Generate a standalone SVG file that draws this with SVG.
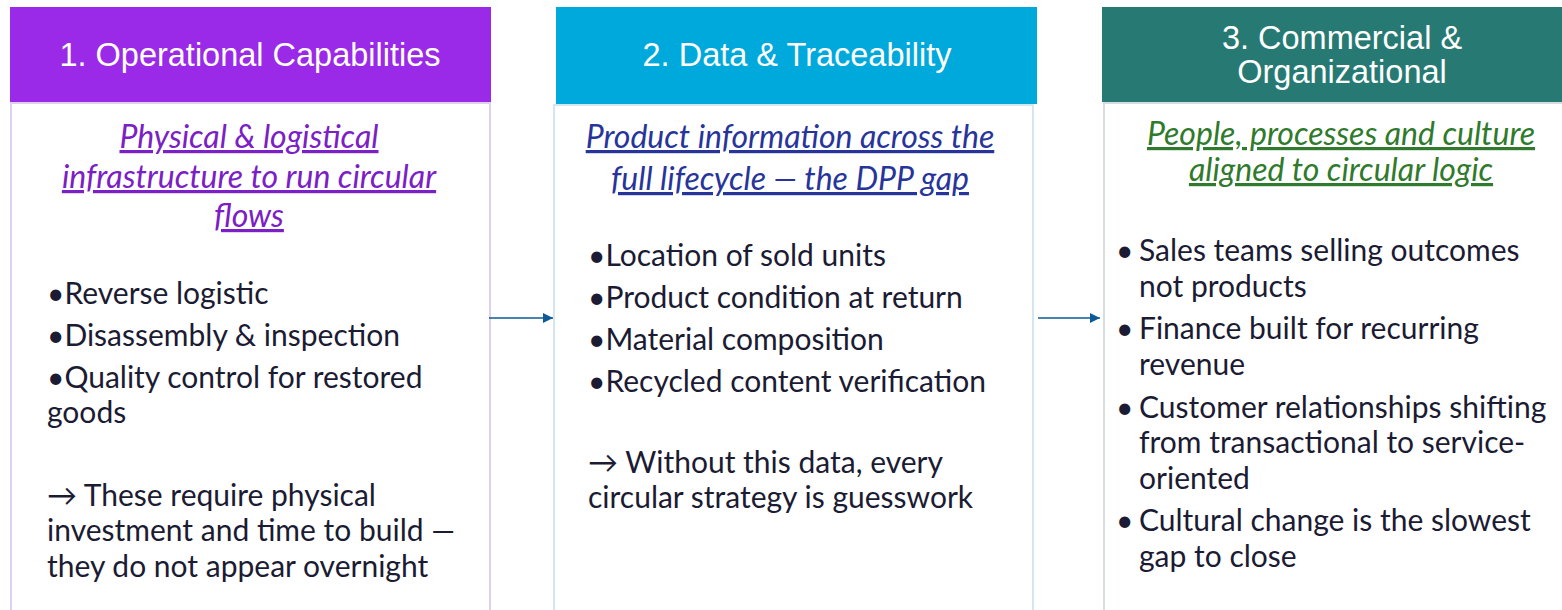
<svg xmlns="http://www.w3.org/2000/svg" width="1562" height="610" viewBox="0 0 1562 610">
<defs>
<style>
.hdr{font-family:"Liberation Sans",Arial,sans-serif;font-size:32.5px;fill:#ffffff;text-anchor:middle}
.sub{font-family:Lato,"Open Sans",sans-serif;font-style:italic;font-size:32px;text-anchor:middle;text-decoration:underline}
.bd{font-family:Lato,"Open Sans",sans-serif;font-size:30px;fill:#1b1b33}
.conn{stroke:#0d5a96;stroke-width:1.5;fill:none}
</style>
<marker id="ah" viewBox="0 0 10 10" refX="10" refY="5" markerWidth="10" markerHeight="10" markerUnits="userSpaceOnUse" orient="auto">
<path d="M0,0 L10,5 L0,10 z" fill="#0d5a96"/>
</marker>
</defs>
<rect width="1562" height="610" fill="#ffffff"/>
<g id="col1">
<rect x="11" y="103" width="479" height="520" fill="#ffffff" stroke="#ddd0f3" stroke-width="2"/>
<rect x="10" y="7" width="481" height="95" fill="#9a2ae8"/>
<text class="hdr" x="250" y="66">1. Operational Capabilities</text>
<text class="sub" fill="#7a20c4"><tspan x="249" y="148">Physical &amp; logistical</tspan><tspan x="249" y="188">infrastructure to run circular</tspan><tspan x="249" y="227">flows</tspan></text>
<text class="bd"><tspan x="47" y="304">•Reverse logistic</tspan><tspan x="47" y="346">•Disassembly &amp; inspection</tspan><tspan x="47" y="388">•Quality control for restored</tspan><tspan x="47" y="423">goods</tspan><tspan x="47" y="506">→ These require physical</tspan><tspan x="47" y="541">investment and time to build —</tspan><tspan x="47" y="577">they do not appear overnight</tspan></text>
</g>
<g id="col2">
<rect x="554" y="105" width="479" height="520" fill="#ffffff" stroke="#d3e6f1" stroke-width="2"/>
<rect x="556" y="7" width="481" height="97" fill="#00a9dc"/>
<text class="hdr" x="797" y="66">2. Data &amp; Traceability</text>
<text class="sub" fill="#27359a"><tspan x="790" y="148">Product information across the</tspan><tspan x="790" y="190">full lifecycle — the DPP gap</tspan></text>
<text class="bd"><tspan x="588" y="266">•Location of sold units</tspan><tspan x="588" y="308">•Product condition at return</tspan><tspan x="588" y="350">•Material composition</tspan><tspan x="588" y="392">•Recycled content verification</tspan><tspan x="588" y="473">→ Without this data, every</tspan><tspan x="588" y="508">circular strategy is guesswork</tspan></text>
</g>
<g id="col3">
<rect x="1104" y="103" width="470" height="520" fill="#ffffff" stroke="#d7dcdf" stroke-width="2"/>
<rect x="1102" y="7" width="470" height="95" fill="#277a73"/>
<text class="hdr"><tspan x="1342" y="49">3. Commercial &amp;</tspan><tspan x="1342" y="83">Organizational</tspan></text>
<text class="sub" fill="#2f7a2c"><tspan x="1341" y="145">People, processes and culture</tspan><tspan x="1341" y="181">aligned to circular logic</tspan></text>
<text class="bd"><tspan x="1116" y="261">•</tspan><tspan x="1139" y="261">Sales teams selling outcomes</tspan><tspan x="1139" y="297">not products</tspan><tspan x="1116" y="339">•</tspan><tspan x="1139" y="339">Finance built for recurring</tspan><tspan x="1139" y="375">revenue</tspan><tspan x="1116" y="418">•</tspan><tspan x="1139" y="418">Customer relationships shifting</tspan><tspan x="1139" y="453">from transactional to service-</tspan><tspan x="1139" y="489">oriented</tspan><tspan x="1116" y="531">•</tspan><tspan x="1139" y="531">Cultural change is the slowest</tspan><tspan x="1139" y="567">gap to close</tspan></text>
</g>
<g id="connectors">
<line class="conn" x1="489" y1="318" x2="553" y2="318" marker-end="url(#ah)"/>
<line class="conn" x1="1038" y1="318" x2="1100" y2="318" marker-end="url(#ah)"/>
</g>
</svg>
